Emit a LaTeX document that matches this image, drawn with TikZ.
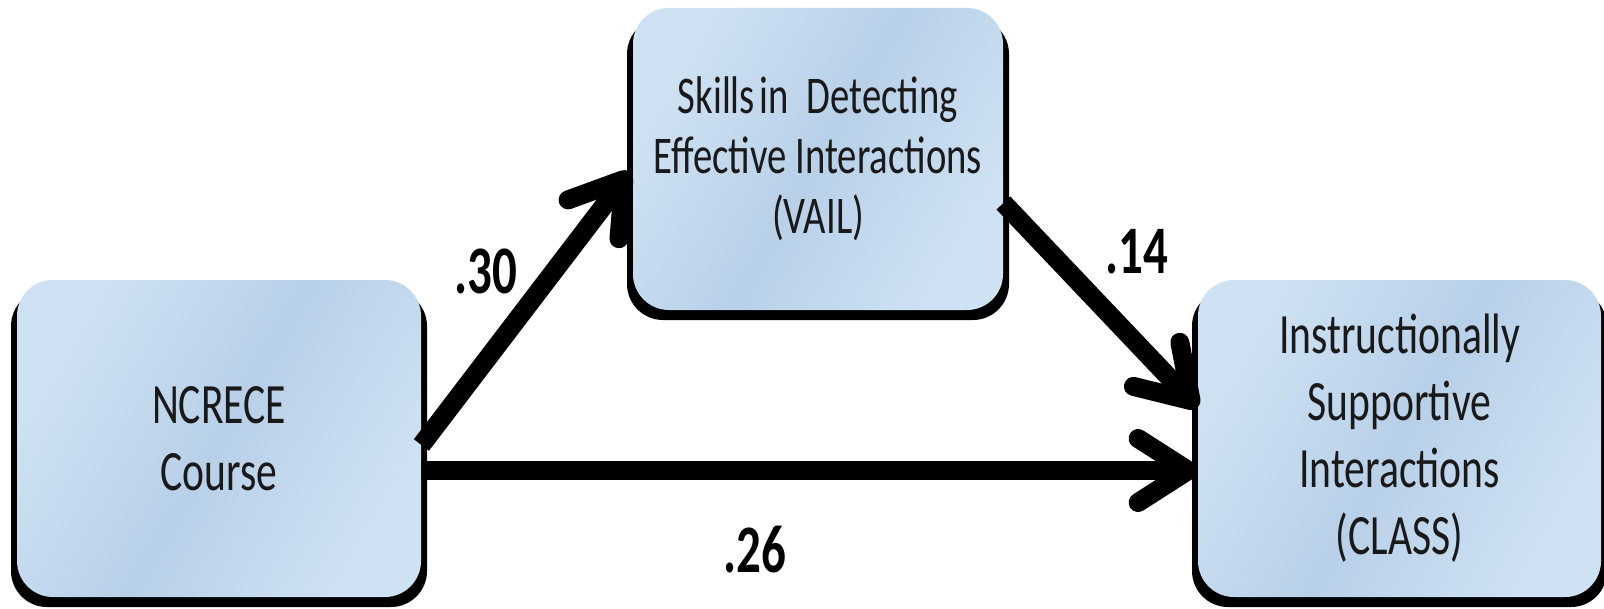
\documentclass[tikz,border=0pt]{standalone}
\usepackage{fontspec}
\setmainfont{Carlito}
\newfontfamily\boxfont[FakeStretch=0.73]{Carlito}
\newfontfamily\labfont[FakeStretch=0.72]{Carlito}
\usetikzlibrary{arrows.meta,calc}
\definecolor{bl}{RGB}{207,226,243}
\definecolor{bm}{RGB}{184,208,232}
\definecolor{txt}{RGB}{25,25,25}
\begin{document}
\begin{tikzpicture}[x=0.5pt,y=-0.5pt,
  box/.style={rectangle, rounded corners=18pt, inner sep=0pt,
    left color=bl, right color=bl, middle color=bm, shading angle=60,
    text=txt, align=center},
  shadowbox/.style={rectangle, rounded corners=18pt, inner sep=0pt, fill=black},
  bigtext/.style={font=\boxfont\fontsize{28.5pt}{33.5pt}\selectfont},
  midtext/.style={font=\boxfont\fontsize{26.5pt}{30pt}\selectfont},
  lab/.style={font=\labfont\bfseries\fontsize{34pt}{34pt}\selectfont, text=black, inner sep=0pt},
  arr/.style={line width=9.5pt, -{Straight Barb[length=25pt, width=32pt, round]}}]
\useasboundingbox (0,0) rectangle (1604,609);
\node[shadowbox, minimum width=208pt, minimum height=158.5pt] (Ls) at (219,448.5) {};
\node[shadowbox, minimum width=191pt, minimum height=151pt] (Ms) at (818,169) {};
\node[shadowbox, minimum width=207.5pt, minimum height=158.5pt] (Rs) at (1399.5,448.5) {};
\node[box, bigtext, minimum width=202pt, minimum height=158.5pt] (L) at (219,438.5) {NCRECE\\Course};
\node[box, midtext, minimum width=185pt, minimum height=151pt] (M) at (818,159) {Skills\hspace{0.08em}in\hspace{0.35em}Detecting\\Effective Interactions\\(VAIL)};
\node[box, bigtext, minimum width=201.5pt, minimum height=158.5pt] (R) at (1399.5,438.5) {Instructionally\\Supportive\\Interactions\\(CLASS)};
\draw[arr] ([yshift=-3.25pt]L.east) -- ([xshift=-1.5pt,yshift=-6.5pt]M.west);
\draw[arr] ([yshift=-22pt]M.east) -- ([yshift=15.5pt]R.west);
\draw[arr] ([yshift=-16pt]L.east) -- ([yshift=-16pt]R.west);
\node[lab] (l30) at (486,271) {.30};
\node[lab] (l14) at (1137,252) {.14};
\node[lab] (l26) at (755,550) {.26};
\end{tikzpicture}
\end{document}
